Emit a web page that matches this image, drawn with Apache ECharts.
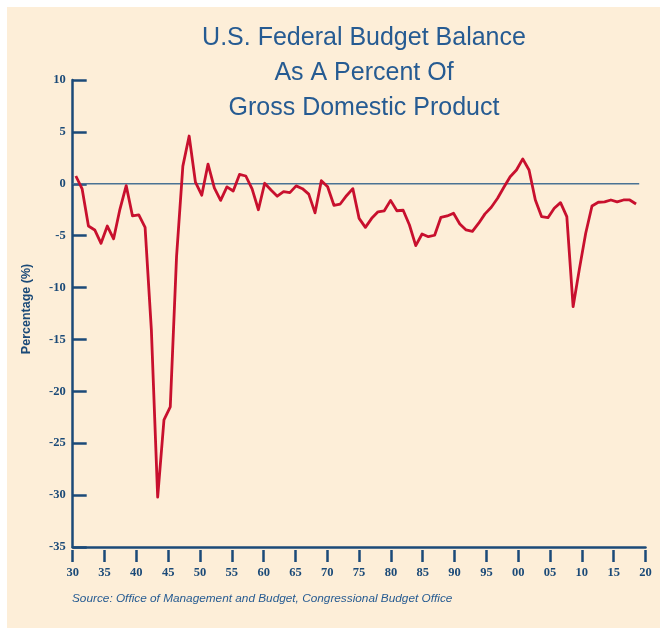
<!DOCTYPE html>
<html>
<head>
<meta charset="utf-8">
<script src="https://cdn.jsdelivr.net/npm/echarts@6/dist/echarts.min.js"></script>
<style>
  html, body { margin: 0; padding: 0; background: #ffffff; }
  #chart { width: 660px; height: 628px; }
</style>
</head>
<body>
<div id="chart"></div>
<script>
// ---- Data ----
const firstYear = 1930;
// Federal budget balance, % of GDP, one value per year 1930..2019
const balance = [
  0.75, -0.5, -4.07, -4.45, -5.74, -4.07, -5.3, -2.46, -0.18, -3.1,
  -3.0, -4.2, -14.1, -30.2, -22.75, -21.5, -7.0, 1.7, 4.6, 0.15,
  -1.1, 1.9, -0.4, -1.6, -0.3, -0.7, 0.9, 0.75, -0.5, -2.5,
  0.05, -0.6, -1.2, -0.76, -0.85, -0.2, -0.47, -1.0, -2.8, 0.3,
  -0.28, -2.07, -1.95, -1.15, -0.47, -3.33, -4.2, -3.33, -2.7, -2.6,
  -1.6, -2.6, -2.55, -3.97, -5.96, -4.84, -5.1, -4.96, -3.23, -3.1,
  -2.84, -3.87, -4.45, -4.58, -3.8, -2.9, -2.26, -1.4, -0.34, 0.68,
  1.33, 2.4, 1.33, -1.56, -3.17, -3.27, -2.36, -1.82, -3.17, -11.84,
  -8.2, -4.77, -2.14, -1.78, -1.75, -1.56, -1.75, -1.56, -1.56, -1.95
];
const years = balance.map((_, i) => firstYear + i);
const xTickLabels = ['30','35','40','45','50','55','60','65','70','75','80','85','90','95','00','05','10','15','20'];
const yTicks = [10, 5, 0, -5, -10, -15, -20, -25, -30, -35];
const titleLines = ['U.S. Federal Budget Balance', 'As A Percent Of', 'Gross Domestic Product'];
const yAxisTitle = 'Percentage (%)';
const sourceText = 'Source: Office of Management and Budget, Congressional Budget Office';

// ---- Styles ----
const NAVY = '#1b4a78';
const TITLE_BLUE = '#265b92';
const RED = '#c8102e';
const BEIGE = '#fdeed8';

const chart = echarts.init(document.getElementById('chart'), null, { renderer: 'canvas' });

const xMin = 1930, xMax = 2020;
const option = {
  backgroundColor: '#ffffff',
  animation: false,
  title: {
    text: titleLines.join('\n'),
    left: 364,
    top: 21,
    padding: 0,
    textAlign: 'center',
    textStyle: {
      fontFamily: 'Liberation Sans, Arial, sans-serif',
      fontWeight: 'normal',
      fontSize: 25,
      lineHeight: 35,
      color: TITLE_BLUE
    }
  },
  graphic: [
    {
      type: 'rect', z: -10, silent: true,
      shape: { x: 7, y: 7, width: 653, height: 621 },
      style: { fill: BEIGE }
    },
    {
      type: 'text', silent: true,
      x: 27, y: 309, rotation: Math.PI / 2,
      style: {
        text: yAxisTitle, textAlign: 'center', textVerticalAlign: 'middle',
        fill: NAVY, fontFamily: 'Liberation Sans, Arial, sans-serif',
        fontWeight: 'bold', fontSize: 12.5
      }
    },
    {
      type: 'text', silent: true,
      x: 72, y: 599,
      style: {
        text: sourceText, textAlign: 'left', textVerticalAlign: 'middle',
        fill: TITLE_BLUE, fontFamily: 'Liberation Sans, Arial, sans-serif',
        fontStyle: 'italic', fontSize: 11.8
      }
    }
  ],
  grid: { left: 72.7, right: 14.5, top: 80, bottom: 81, containLabel: false },
  xAxis: [
    {
      type: 'value', min: xMin, max: xMax, interval: 5,
      position: 'bottom', offset: 3,
      axisLine: { show: false, onZero: false },
      axisTick: { show: true, inside: false, length: 12, lineStyle: { color: NAVY, width: 2.5 } },
      axisLabel: {
        margin: 16, color: NAVY, fontFamily: 'Liberation Serif, Times New Roman, serif',
        fontWeight: 'bold', fontSize: 12.5,
        formatter: v => xTickLabels[Math.round((v - xMin) / 5)]
      },
      splitLine: { show: false }
    },
    {
      // data axis: one slot per year, points centred in their year slot
      type: 'value', min: firstYear - 0.5, max: xMax + 0.5,
      position: 'bottom', offset: 0,
      axisLine: { show: true, onZero: false, lineStyle: { color: NAVY, width: 2.5 } },
      axisTick: { show: false },
      axisLabel: { show: false },
      splitLine: { show: false }
    }
  ],
  yAxis: {
    type: 'value', min: -35, max: 10, interval: 5,
    axisLine: { show: true, onZero: false, lineStyle: { color: NAVY, width: 2.5 } },
    axisTick: { show: true, inside: true, length: 14, lineStyle: { color: NAVY, width: 2.5 } },
    axisLabel: {
      margin: 7, color: NAVY, fontFamily: 'Liberation Serif, Times New Roman, serif',
      fontWeight: 'bold', fontSize: 12.5,
      formatter: v => (yTicks.indexOf(v) >= 0 ? String(v) : '')
    },
    splitLine: { show: false }
  },
  series: [
    {
      name: 'zero', type: 'line', xAxisIndex: 1, z: 1, silent: true,
      symbol: 'none',
      data: [[years[0] - 0.5, 0], [years[years.length - 1] + 0.5, 0]],
      lineStyle: { color: '#4a7294', width: 1.5 }
    },
    {
      name: 'Budget balance', type: 'line', xAxisIndex: 1, z: 3,
      symbol: 'none',
      data: years.map((y, i) => [y, balance[i]]),
      lineStyle: { color: RED, width: 2.8, join: 'round' }
    }
  ]
};
chart.setOption(option);
</script>
</body>
</html>
